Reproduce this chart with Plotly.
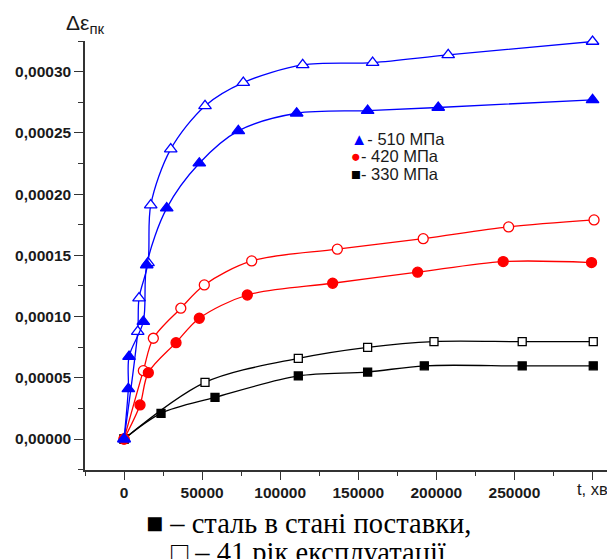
import plotly.graph_objects as go

# 510 MPa: steel as delivered (filled) and after 41 years of service (open)
t_510_new = [0, 2750, 3200, 12350, 14530, 27340, 48200, 73180, 110560, 156010, 201210, 300050]
e_510_new = [0, 0.0000410, 0.0000673, 0.0000958, 0.0001421, 0.0001885, 0.0002252, 0.0002516,
             0.0002660, 0.0002682, 0.0002707, 0.0002770]
t_510_old = [0, 8770, 9600, 15360, 17090, 29900, 51860, 76380, 114400, 159200, 207600, 300050]
e_510_old = [0, 0.0000877, 0.0001150, 0.0001438, 0.0001910, 0.0002367, 0.0002720, 0.0002910,
             0.0003055, 0.0003074, 0.0003137, 0.0003246]

# 420 MPa
t_420_new = [0, 10240, 15560, 33290, 48200, 78940, 133600, 188000, 242800, 299400]
e_420_new = [0, 0.0000278, 0.0000542, 0.0000787, 0.0000986, 0.0001176, 0.0001272, 0.0001362,
             0.0001449, 0.0001441]
t_420_old = [0, 12360, 18760, 36360, 51410, 81750, 136600, 191600, 246300, 301000]
e_420_old = [0, 0.0000558, 0.0000823, 0.0001068, 0.0001258, 0.0001454, 0.0001550, 0.0001636,
             0.0001732, 0.0001789]

# 330 MPa
t_330_new = [0, 23690, 58260, 111600, 156000, 192300, 255000, 300500]
e_330_new = [0, 0.0000210, 0.0000340, 0.0000515, 0.0000547, 0.0000598, 0.0000597, 0.0000598]
t_330_old = [0, 51860, 111600, 156000, 198500, 255000, 300500]
e_330_old = [0, 0.0000462, 0.0000659, 0.0000749, 0.0000796, 0.0000795, 0.0000796]

x_tickvals = [0, 50000, 100000, 150000, 200000, 250000, 300000]
x_ticktext = ["0", "50000", "100000", "150000", "200000", "250000", " "]
y_tickvals = [0, 0.00005, 0.0001, 0.00015, 0.0002, 0.00025, 0.0003]
y_ticktext = ["0,00000", "0,00005", "0,00010", "0,00015", "0,00020", "0,00025", "0,00030"]

legend_labels = ["- 510 МПа", "- 420 МПа", "- 330 МПа"]
x_title = "t, хв"
y_title_main = "Δε"
y_title_sub = "пк"
caption = ["■ – сталь в стані поставки,", "□ – 41 рік експлуатації"]

BLUE = "#0000ff"
RED = "#ff0000"
BLACK = "#000000"
AXIS = "#333333"

fig = go.Figure()


def add(x, y, color, symbol, filled, size):
    fig.add_trace(go.Scatter(
        x=x, y=y, mode="lines+markers", cliponaxis=False,
        line=dict(color=color, width=1.3, shape="spline", smoothing=0.9),
        marker=dict(symbol=symbol, size=size,
                    color=color if filled else "white",
                    line=dict(color=color, width=1.3)),
        showlegend=False, hoverinfo="skip"))


add(t_330_old, e_330_old, BLACK, "square", False, 8)
add(t_330_new, e_330_new, BLACK, "square", True, 8)
add(t_420_old, e_420_old, RED, "circle", False, 10)
add(t_420_new, e_420_new, RED, "circle", True, 10)
add(t_510_old, e_510_old, BLUE, "triangle-up", False, 11)
add(t_510_new, e_510_new, BLUE, "triangle-up", True, 11)

axis_common = dict(
    showline=True, linecolor=AXIS, linewidth=1.5,
    ticks="outside", tickcolor=AXIS, tickwidth=1.3,
    showgrid=False, zeroline=False,
    tickfont=dict(family="Liberation Sans, Arial", size=15.5, color="#1a1a1a", weight="bold"),
)

fig.update_xaxes(
    range=[-25000, 312500], tickmode="array", tickvals=x_tickvals, ticktext=x_ticktext,
    ticklen=8,
    minor=dict(ticks="outside", dtick=25000, tick0=0, ticklen=4, tickcolor=AXIS, tickwidth=1.3),
    **axis_common)
fig.update_yaxes(
    range=[-0.0000253, 0.000325], tickmode="array", tickvals=y_tickvals, ticktext=y_ticktext,
    ticklen=9,
    minor=dict(ticks="outside", dtick=0.000025, tick0=0, ticklen=5, tickcolor=AXIS, tickwidth=1.3),
    **axis_common)

# plot area in page pixels: x 85..612, y 41..470
PL, PR, PT, PB = 85, 612, 41, 470


def px(x):
    return (x - PL) / (PR - PL)


def py(y):
    return (PB - y) / (PB - PT)


annotations = [
    dict(x=px(610), y=py(489), xref="paper", yref="paper", text=x_title, showarrow=False,
         xanchor="right", yanchor="middle",
         font=dict(family="Liberation Sans, Arial", size=16.5, color="#1a1a1a")),
    dict(x=px(64), y=py(24), xref="paper", yref="paper",
         text=y_title_main + "<sub><span style='font-size:15px'>" + y_title_sub + "</span></sub>",
         showarrow=False, xanchor="left", yanchor="middle",
         font=dict(family="Liberation Sans, Arial", size=21, color="#1a1a1a")),
]

leg_syms = ["<span style='color:#0000ff'>▲</span>",
            "<span style='color:#ff0000'>●</span>",
            "<span style='color:#000000'>■</span>"]
leg_lines = ["<span style='font-size:16.5px'>" + s + l + "</span>" for s, l in zip(leg_syms, legend_labels)]
annotations.append(dict(
    x=px(349), y=py(157), xref="paper", yref="paper",
    text="<br>".join(leg_lines), showarrow=False, xanchor="left", yanchor="middle", align="left",
    font=dict(family="Liberation Sans, Arial", size=13.3, color="#1a1a1a")))

cap_y_px = [523, 552]
for txt, yy in zip(caption, cap_y_px):
    annotations.append(dict(
        x=px(308), y=py(yy), xref="paper", yref="paper",
        text=txt, showarrow=False, xanchor="center", yanchor="middle",
        font=dict(family="Liberation Serif, Times New Roman", size=28.5, color="#000000")))

# page has an 8 px body margin, so the figure is 8 px smaller than the window
fig.update_layout(
    width=607, height=551,
    margin=dict(l=PL - 8, r=607 + 8 - PR, t=PT - 8, b=551 + 8 - PB),
    plot_bgcolor="white", paper_bgcolor="white",
    annotations=annotations,
)

fig.write_html("out.html")
